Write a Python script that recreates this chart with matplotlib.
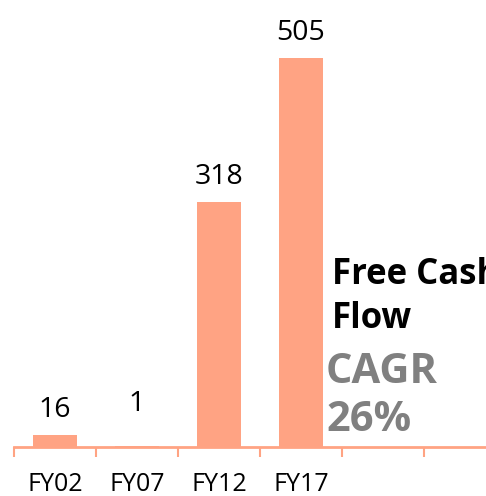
import numpy as np
import matplotlib
matplotlib.use("Agg")
import matplotlib.pyplot as plt

plt.rcParams['font.family'] = ['Open Sans', 'DejaVu Sans']

# data
categories = ['FY02', 'FY07', 'FY12', 'FY17', '', '']
values = [16, 1, 318, 505, None, None]
bar_color = '#FFA383'

fig = plt.figure(figsize=(4.86, 4.96), dpi=100)
ax = fig.add_axes([14 / 486, 1 - 447 / 496, 472 / 486, 447 / 496])

x = np.arange(len(categories))
shown = [i for i, v in enumerate(values) if v is not None]
vals = [values[i] for i in shown]
bars = ax.bar(shown, vals, width=0.53, color=bar_color)

# value labels; the tiny FY07 one sits a bit higher, as in the source
label_pad = [8, 20, 8, 8]
for rect, v, p in zip(bars, vals, label_pad):
    ax.annotate(str(v), (rect.get_x() + rect.get_width() / 2, rect.get_height()),
                xytext=(0, p), textcoords='offset points',
                ha='center', va='bottom', fontsize=20.5)

for s in ['top', 'right', 'left']:
    ax.spines[s].set_visible(False)
ax.spines['bottom'].set_color(bar_color)
ax.spines['bottom'].set_linewidth(2)
ax.set_yticks([])

# boundary ticks (no labels) and category labels on minor ticks
ax.set_xticks(np.arange(-0.5, len(categories) + 0.5, 1))
ax.set_xticklabels([])
ax.tick_params(axis='x', which='major', length=7.5, width=1.5, color=bar_color, direction='out')
ax.set_xticks(x, minor=True)
ax.set_xticklabels(categories, minor=True, fontsize=18)
ax.tick_params(axis='x', which='minor', length=0, pad=18)

ax.set_xlim(-0.5, -0.5 + 472 / 82)
ax.set_ylim(0, 580)

fig.text(332 / 486, 1 - 257 / 496, 'Free Cash\nFlow', fontsize=25, fontweight='bold',
         color='black', va='top', ha='left', linespacing=1.3)
fig.text(326 / 486, 1 - 352 / 496, 'CAGR\n26%', fontsize=30, fontweight='bold',
         color='#808080', va='top', ha='left', linespacing=1.22)

fig.savefig('out.png', dpi=100)
